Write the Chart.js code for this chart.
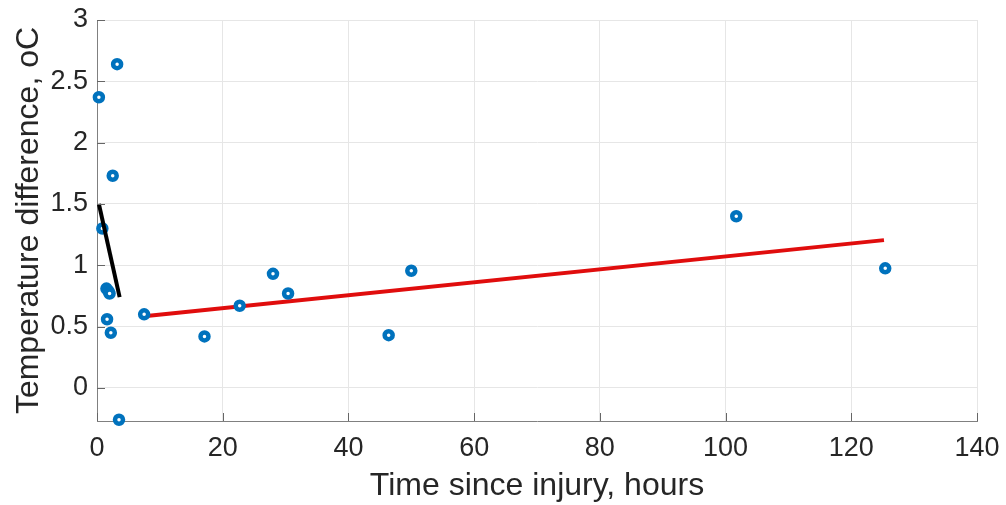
<!DOCTYPE html>
<html>
<head>
<meta charset="utf-8">
<script src="https://cdn.jsdelivr.net/npm/chart.js@4"></script>
<style>
  html, body { margin: 0; padding: 0; background: #ffffff; }
  #wrap { width: 1006px; height: 505px; }
</style>
</head>
<body>
<div id="wrap"><canvas id="chart" width="1006" height="505"></canvas></div>
<script>
// measured points: time since injury (h) vs temperature difference (oC)
const timeHours = [0.3, 3.2, 2.5, 0.85, 1.5, 1.8, 2.0, 1.6, 2.2, 3.5, 7.5, 17.1, 22.7, 28.0, 30.4, 46.4, 50.0, 101.7, 125.4];
const tempDiff  = [2.37, 2.64, 1.73, 1.30, 0.81, 0.79, 0.77, 0.56, 0.45, -0.26, 0.60, 0.42, 0.67, 0.93, 0.77, 0.43, 0.955, 1.40, 0.975];

// early fit (black) and late fit (red)
const earlyFitX = [0.3, 3.6];
const earlyFitY = [1.50, 0.74];
const lateFitX = [7.5, 125.2];
const lateFitY = [0.585, 1.205];

const xTicks = [0, 20, 40, 60, 80, 100, 120, 140];
const yTicks = [0, 0.5, 1, 1.5, 2, 2.5, 3];

const toXY = (xs, ys) => xs.map((x, i) => ({ x, y: ys[i] }));

const textColor = '#262626';
const fontFamily = '"Liberation Sans", Arial, Helvetica, sans-serif';

// MATLAB-style inward tick marks
const innerTicks = {
    id: 'innerTicks',
    afterDatasetsDraw(chart) {
        const { ctx, chartArea, scales } = chart;
        ctx.save();
        ctx.strokeStyle = '#666666';
        ctx.lineWidth = 1;
        ctx.beginPath();
        xTicks.forEach(v => {
            const px = Math.round(scales.x.getPixelForValue(v)) + 0.5;
            ctx.moveTo(px, chartArea.bottom);
            ctx.lineTo(px, chartArea.bottom - 8);
        });
        yTicks.forEach(v => {
            const py = Math.round(scales.y.getPixelForValue(v)) + 0.5;
            ctx.moveTo(chartArea.left, py);
            ctx.lineTo(chartArea.left + 8, py);
        });
        ctx.stroke();
        ctx.restore();
    }
};

new Chart(document.getElementById('chart'), {
    type: 'scatter',
    data: {
        datasets: [
            {
                label: 'Early fit',
                data: toXY(earlyFitX, earlyFitY),
                showLine: true,
                borderColor: '#000000',
                borderWidth: 4,
                pointRadius: 0,
                order: 0
            },
            {
                label: 'Measurements',
                data: toXY(timeHours, tempDiff),
                pointStyle: 'circle',
                pointRadius: 4,
                pointBorderWidth: 4.5,
                borderColor: '#0072BD',
                backgroundColor: '#ffffff',
                clip: false,
                order: 1
            },
            {
                label: 'Late fit',
                data: toXY(lateFitX, lateFitY),
                showLine: true,
                borderColor: '#e00d0d',
                borderWidth: 4,
                pointRadius: 0,
                order: 2
            }
        ]
    },
    options: {
        responsive: false,
        animation: false,
        layout: { padding: { left: 0, right: 29, top: 20, bottom: 0 } },
        plugins: {
            legend: { display: false },
            tooltip: { enabled: false }
        },
        scales: {
            x: {
                type: 'linear',
                min: 0,
                max: 140,
                afterBuildTicks: scale => { scale.ticks = xTicks.map(v => ({ value: v })); },
                afterFit: scale => {
                    scale.height = 84;
                    scale.paddingLeft = 0;
                    scale.paddingRight = 0;
                },
                grid: { color: '#e6e6e6', lineWidth: 1, drawTicks: false },
                border: { display: true, color: '#808080', width: 1 },
                ticks: {
                    color: textColor,
                    padding: 11,
                    font: { family: fontFamily, size: 27 }
                },
                title: {
                    display: true,
                    text: 'Time since injury, hours',
                    color: textColor,
                    padding: { top: 0, bottom: 0 },
                    font: { family: fontFamily, size: 32 }
                }
            },
            y: {
                type: 'linear',
                min: -0.27,
                max: 3,
                afterBuildTicks: scale => { scale.ticks = yTicks.map(v => ({ value: v })); },
                afterFit: scale => {
                    scale.width = 97;
                    scale.paddingTop = 0;
                    scale.paddingBottom = 0;
                },
                grid: { color: '#e6e6e6', lineWidth: 1, drawTicks: false },
                border: { display: true, color: '#808080', width: 1 },
                ticks: {
                    color: textColor,
                    padding: 9,
                    font: { family: fontFamily, size: 27 },
                    callback: v => String(v)
                },
                title: {
                    display: true,
                    text: 'Temperature difference, oC',
                    color: textColor,
                    padding: { top: 10, bottom: 0 },
                    font: { family: fontFamily, size: 32 }
                }
            }
        }
    },
    plugins: [innerTicks]
});
</script>
</body>
</html>
